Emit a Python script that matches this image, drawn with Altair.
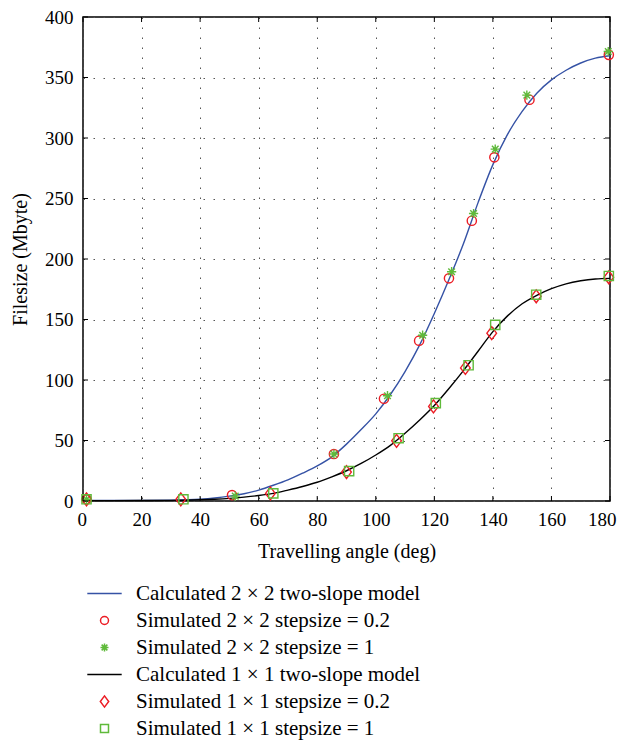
import altair as alt
import pandas as pd

# ---------------- data ----------------
names = [
    "Calculated 2 × 2 two-slope model",
    "Simulated 2 × 2 stepsize = 0.2",
    "Simulated 2 × 2 stepsize = 1",
    "Calculated 1 × 1 two-slope model",
    "Simulated 1 × 1 stepsize = 0.2",
    "Simulated 1 × 1 stepsize = 1",
]

calc_angle = [0, 10, 20, 30, 40, 45, 50, 55, 60, 65, 70, 75, 80, 85, 90, 95, 100,
              105, 110, 115, 120, 125, 130, 135, 140, 145, 150, 155, 160, 165,
              170, 175, 180]
calc2 = [0.5, 0.5, 0.5, 0.7, 1.5, 2.5, 4, 6, 9, 13, 17.5, 23, 29, 36.5, 47, 59, 72,
         88, 107, 129, 155, 183, 213, 247, 278, 303, 322, 337, 348, 356,
         362, 366, 368]
calc1 = [0.3, 0.3, 0.4, 0.5, 1, 1.5, 2.2, 3.2, 4.5, 6.3, 9, 12, 15.5, 20, 25, 31, 38,
         46, 56, 67, 79, 93, 108, 124, 140, 153, 163, 170, 175.5, 179.5,
         182, 183.5, 184]

sim2_02_x = [1.2, 50.9, 85.7, 102.8, 114.8, 125.0, 132.8, 140.5, 152.5, 179.6]
sim2_02_y = [1.4, 4.9, 38.8, 84.5, 132.5, 184.0, 231.6, 284.0, 331.6, 368.7]
sim2_1_x = [1.2, 52.0, 85.7, 104.0, 116.0, 125.9, 133.4, 140.8, 151.6, 179.4]
sim2_1_y = [1.4, 4.0, 38.8, 87.0, 137.0, 189.5, 237.6, 290.8, 335.4, 371.5]
sim1_02_x = [1.2, 33.4, 64.0, 90.0, 107.1, 119.7, 130.6, 139.6, 154.8, 179.6]
sim1_02_y = [1.4, 1.4, 6.3, 23.9, 49.7, 78.2, 110.0, 138.7, 169.2, 184.9]
sim1_1_x = [1.2, 34.3, 65.0, 90.9, 107.8, 120.5, 131.7, 140.8, 154.8, 179.6]
sim1_1_y = [1.4, 1.4, 6.3, 24.7, 51.9, 80.9, 112.2, 145.6, 170.5, 186.0]

x_ticks = [0, 20, 40, 60, 80, 100, 120, 140, 160, 180]
y_ticks = [0, 50, 100, 150, 200, 250, 300, 350, 400]

# ---------------- styles ----------------
colors = ["#3552a5", "#ec1c24", "#5fba3a", "#000000", "#ec1c24", "#5fba3a"]
line_shape = "M-4.3,0L4.3,0"
star = "M-1,0L1,0M0,-1L0,1M-0.72,-0.72L0.72,0.72M-0.72,0.72L0.72,-0.72"
diamond = "M0,-1.4L1.05,0L0,1.4L-1.05,0Z"
shapes = [line_shape, "circle", star, line_shape, diamond, "square"]

FONT = "Liberation Serif, Times New Roman, serif"
W, H = 527, 484

lines_df = pd.concat([
    pd.DataFrame({"angle": calc_angle, "size": calc2, "series": names[0]}),
    pd.DataFrame({"angle": calc_angle, "size": calc1, "series": names[3]}),
])
points_df = pd.concat([
    pd.DataFrame({"angle": sim2_02_x, "size": sim2_02_y, "series": names[1]}),
    pd.DataFrame({"angle": sim2_1_x, "size": sim2_1_y, "series": names[2]}),
    pd.DataFrame({"angle": sim1_02_x, "size": sim1_02_y, "series": names[4]}),
    pd.DataFrame({"angle": sim1_1_x, "size": sim1_1_y, "series": names[5]}),
])

xscale = alt.Scale(domain=[0, 180], nice=False)
yscale = alt.Scale(domain=[0, 400], nice=False)
cscale = alt.Scale(domain=names, range=colors)
sscale = alt.Scale(domain=names, range=shapes)

legend = alt.Legend(
    title=None, orient="none", legendX=11, legendY=566,
    labelFont=FONT, labelFontSize=21, labelColor="black", labelLimit=0,
    symbolSize=64, symbolStrokeWidth=1.5, labelOffset=21, rowPadding=5,
)

xenc = alt.X("angle:Q", scale=xscale, axis=alt.Axis(
    values=x_ticks, title="Travelling angle (deg)", grid=True, ticks=False,
    domain=False, labelPadding=9, titlePadding=12,
    labelFlush=True, labelFlushOffset=6))
yenc = alt.Y("size:Q", scale=yscale, axis=alt.Axis(
    values=y_ticks, title="Filesize (Mbyte)", grid=True, ticks=False,
    domain=False, labelPadding=10, titlePadding=14, labelFlush=False))

lines = alt.Chart(lines_df).mark_line(strokeWidth=1.4, interpolate="monotone").encode(
    x=xenc, y=yenc,
    color=alt.Color("series:N", scale=cscale, legend=legend, sort=names),
)

points = alt.Chart(points_df).mark_point(filled=False, size=85, strokeWidth=1.4, opacity=1).encode(
    x=alt.X("angle:Q", scale=xscale),
    y=alt.Y("size:Q", scale=yscale),
    color=alt.Color("series:N", scale=cscale, legend=legend, sort=names),
    shape=alt.Shape("series:N", scale=sscale, legend=legend, sort=names),
)

xt = pd.DataFrame({"angle": x_ticks})
yt = pd.DataFrame({"size": y_ticks})
tick_bottom = alt.Chart(xt).mark_rule(color="black", strokeWidth=1).encode(
    x=alt.X("angle:Q", scale=xscale), y=alt.value(H), y2=alt.value(H - 5))
tick_top = alt.Chart(xt).mark_rule(color="black", strokeWidth=1).encode(
    x=alt.X("angle:Q", scale=xscale), y=alt.value(0), y2=alt.value(5))
tick_left = alt.Chart(yt).mark_rule(color="black", strokeWidth=1).encode(
    y=alt.Y("size:Q", scale=yscale), x=alt.value(0), x2=alt.value(5))
tick_right = alt.Chart(yt).mark_rule(color="black", strokeWidth=1).encode(
    y=alt.Y("size:Q", scale=yscale), x=alt.value(W), x2=alt.value(W - 5))

chart = alt.layer(
    lines, points, tick_bottom, tick_top, tick_left, tick_right
).properties(
    width=W, height=H,
    autosize=alt.AutoSizeParams(type="none"),
    padding={"left": 75, "top": 9, "right": 8, "bottom": 240},
).configure_view(
    stroke="black", strokeWidth=1.5
).configure_axis(
    labelFont=FONT, labelFontSize=19, labelColor="black",
    titleFont=FONT, titleFontSize=20, titleFontWeight="normal", titleColor="black",
    gridColor="#555555", gridDash=[1.5, 8.5], gridWidth=1, gridOpacity=1,
).configure_legend(
    labelFont=FONT,
)

chart.save("out.html", embed_options={"renderer": "svg", "actions": False})
